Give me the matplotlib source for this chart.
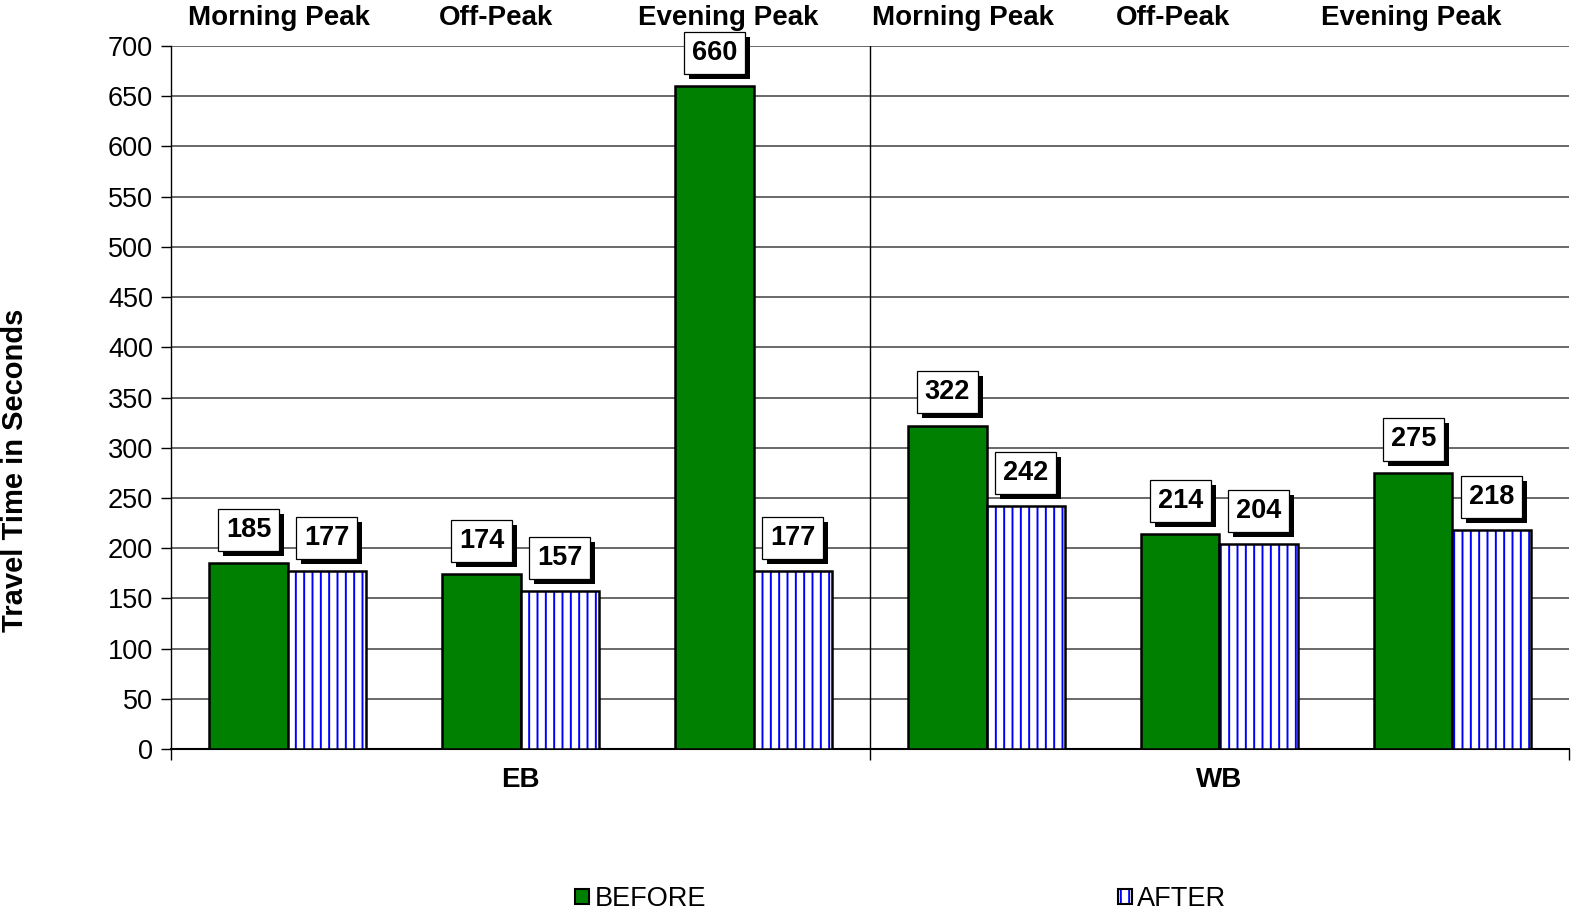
import numpy as np
import matplotlib
matplotlib.use("Agg")
import matplotlib.pyplot as plt
import matplotlib.patheffects as pe
import matplotlib.transforms as mtransforms
from matplotlib.patches import Patch

plt.rcParams['font.family'] = ['Liberation Sans', 'DejaVu Sans']
plt.rcParams['hatch.linewidth'] = 1.4

# data
periods = ['Morning Peak', 'Off-Peak', 'Evening Peak',
           'Morning Peak', 'Off-Peak', 'Evening Peak']
directions = ['EB', 'WB']
before = [185, 174, 660, 322, 214, 275]
after = [177, 157, 177, 242, 204, 218]
y_ticks = list(range(0, 701, 50))

# layout: horizontal nudge of the period titles (in category units)
title_shift = [-0.035, -0.105, -0.11, -0.1, -0.2, -0.175]

green = '#008000'
blue = '#0000FF'

fig = plt.figure(figsize=(15.85, 9.24), dpi=100)
ax = fig.add_axes([0.1079, 0.1894, 0.882, 0.7608])

x = np.arange(len(periods))
w = 0.335

ax.bar(x - w / 2, before, width=w, color=green, edgecolor='black', linewidth=1.8, zorder=3)
# hatched AFTER bars: blue hatch layer, then black outline
ax.bar(x + w / 2, after, width=w, color='white', edgecolor=blue, hatch='||', linewidth=0, zorder=3)
ax.bar(x + w / 2, after, width=w, fill=False, edgecolor='black', linewidth=1.8, zorder=4)

ax.set_xlim(-0.5, len(periods) - 0.5)
ax.set_ylim(0, 700)
ax.set_yticks(y_ticks)
ax.tick_params(axis='y', labelsize=19.5, length=7, width=1, direction='out', pad=6)
ax.yaxis.grid(True, color='#404040', linewidth=1.1, zorder=0)
ax.set_axisbelow(True)

ax.set_xticks([-0.5, 2.5, 5.5])
ax.set_xticklabels([])
ax.tick_params(axis='x', length=8, width=1, direction='out')
ax.axvline(2.5, color='black', linewidth=1, zorder=1)

for s in ['top', 'right']:
    ax.spines[s].set_visible(False)
ax.spines['left'].set_linewidth(1)
ax.spines['bottom'].set_linewidth(1.5)

ax.set_ylabel('Travel Time in Seconds', fontsize=21, fontweight='bold')
ax.yaxis.set_label_coords(-0.1016, 0.397)

# value labels with shadowed boxes
shadow = [pe.SimplePatchShadow(offset=(3.6, -3.6), shadow_rgbFace='black', alpha=1), pe.Normal()]
for xs, vals in [(x - w / 2, before), (x + w / 2, after)]:
    for xi, v in zip(xs, vals):
        t = ax.annotate(str(v), (xi, v), xytext=(0, 24), textcoords='offset points',
                        ha='center', va='center', fontsize=19.5, fontweight='bold', zorder=6,
                        bbox=dict(boxstyle='square,pad=0.3', facecolor='white',
                                  edgecolor='black', linewidth=0.9))
        t.get_bbox_patch().set_path_effects(shadow)

# period labels above the plot
trans = mtransforms.blended_transform_factory(ax.transData, ax.transAxes)
for xi, name, dx in zip(x, periods, title_shift):
    ax.text(xi + dx, 1.04, name, transform=trans, ha='center', va='center',
            fontsize=20, fontweight='bold')

# direction labels below
for i, d in enumerate(directions):
    ax.text(3 * i + 1, -0.044, d, transform=trans, ha='center', va='center',
            fontsize=20, fontweight='bold')

# legend
h_before = Patch(facecolor=green, edgecolor='black', linewidth=1.5)
h_after = (Patch(facecolor='white', edgecolor=blue, hatch='||', linewidth=0),
           Patch(fill=False, edgecolor='black', linewidth=1.5))
for h, lab, xl in [(h_before, 'BEFORE', 0.363), (h_after, 'AFTER', 0.7055)]:
    fig.legend([h], [lab], loc='center left', bbox_to_anchor=(xl, 0.027), frameon=False,
               fontsize=19.5, handlelength=0.5, handleheight=0.5, handletextpad=0.2,
               borderpad=0, borderaxespad=0)

fig.savefig('out.png', dpi=100)
